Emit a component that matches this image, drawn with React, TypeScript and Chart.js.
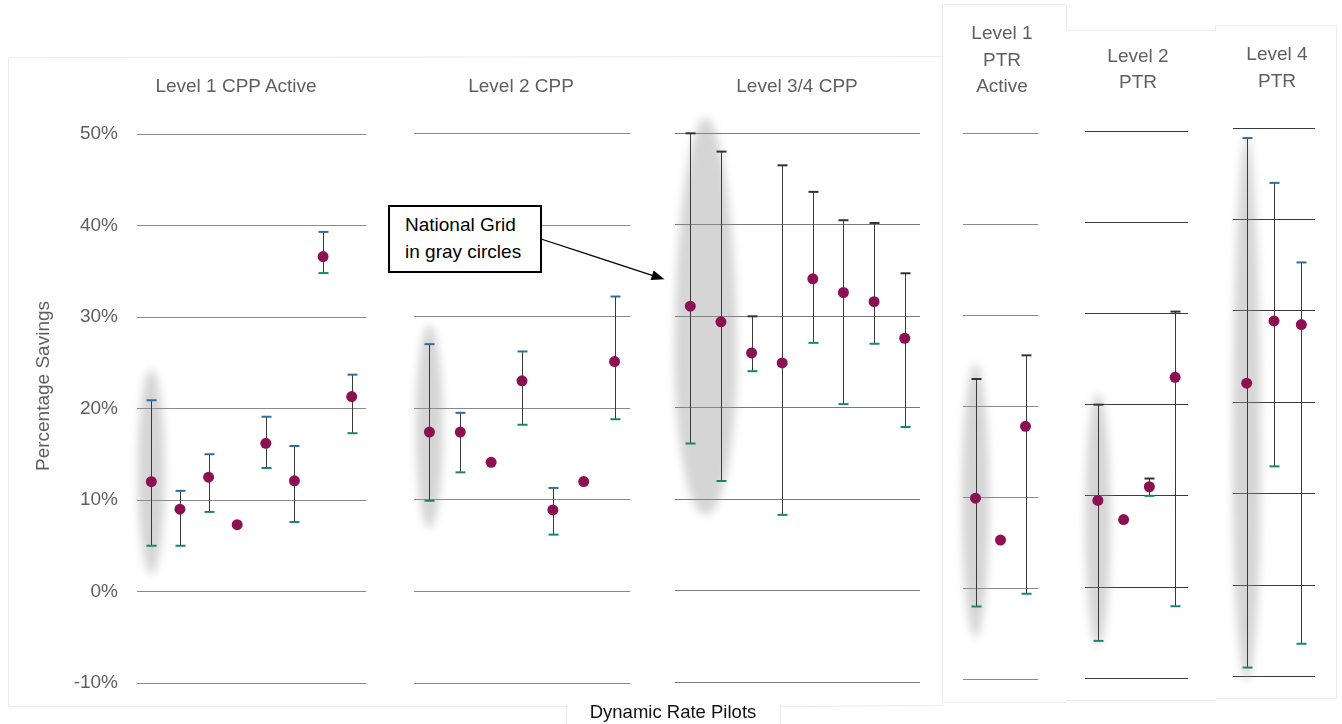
import React, { useEffect, useRef } from "react";
import { Chart, registerables } from "chart.js";

Chart.register(...registerables);

const FONT = '"Liberation Sans", Arial, Helvetica, sans-serif';

// ---------------- data ----------------
const yTickValues = [-10, 0, 10, 20, 30, 40, 50];
const yTickLabels = ["-10%", "0%", "10%", "20%", "30%", "40%", "50%"];
const axisTitle = "Percentage Savings";
const bottomTitle = "Dynamic Rate Pilots";
const calloutLines = ["National Grid", "in gray circles"];

const panelTitles = [
  ["Level 1 CPP Active"],
  ["Level 2 CPP"],
  ["Level 3/4 CPP"],
  ["Level 1", "PTR", "Active"],
  ["Level 2", "PTR"],
  ["Level 4", "PTR"],
];

// Level 1 CPP Active
const l1CppValues = [12.0, 9.0, 12.5, 7.3, 16.2, 12.1, 36.6, 21.3];
const l1CppHigh = [20.9, 11.0, 15.0, null, 19.1, 15.9, 39.3, 23.7];
const l1CppLow = [5.0, 5.0, 8.7, null, 13.5, 7.6, 34.8, 17.3];

// Level 2 CPP
const l2CppValues = [17.4, 17.4, 14.1, 23.0, 8.9, 12.0, 25.1];
const l2CppHigh = [27.0, 19.5, null, 26.2, 11.3, null, 32.2];
const l2CppLow = [9.9, 13.0, null, 18.2, 6.2, null, 18.8];

// Level 3/4 CPP
const l34CppValues = [31.1, 29.4, 26.0, 24.9, 34.1, 32.6, 31.6, 27.6];
const l34CppHigh = [50.0, 48.0, 30.0, 46.5, 43.6, 40.5, 40.2, 34.7];
const l34CppLow = [16.1, 12.0, 24.0, 8.3, 27.1, 20.4, 27.0, 17.9];

// Level 1 PTR Active
const l1PtrValues = [9.9, 5.3, 17.8];
const l1PtrHigh = [23.0, null, 25.6];
const l1PtrLow = [-2.0, null, -0.6];

// Level 2 PTR
const l2PtrValues = [9.5, 7.4, 11.0, 23.0];
const l2PtrHigh = [20.0, null, 11.9, 30.2];
const l2PtrLow = [-5.9, null, 10.0, -2.1];

// Level 4 PTR
const l4PtrValues = [22.1, 28.9, 28.5];
const l4PtrHigh = [48.9, 44.0, 35.3];
const l4PtrLow = [-9.0, 13.0, -6.4];

// National Grid gray circles (value extents and centre category)
const ngHigh = [24.3, 29.1, 51.7, 24.7, 21.3, 49.0];
const ngLow = [1.9, 6.9, 8.3, -5.4, -6.5, -10.5];
const ngCenter = [0, 0, 0.5, 0, 0, 0];

const panelValues = [l1CppValues, l2CppValues, l34CppValues, l1PtrValues, l2PtrValues, l4PtrValues];
const panelHigh = [l1CppHigh, l2CppHigh, l34CppHigh, l1PtrHigh, l2PtrHigh, l4PtrHigh];
const panelLow = [l1CppLow, l2CppLow, l34CppLow, l1PtrLow, l2PtrLow, l4PtrLow];

// ---------------- layout / style ----------------
const panelBoxes = [
  { left: 137, right: 366, top: 134, bottom: 683, ew: 13.5, drop: false, grid: "#8a8a8a", cap: "#2f6e9c" },
  { left: 414, right: 630, top: 133.5, bottom: 683, ew: 13.5, drop: false, grid: "#8a8a8a", cap: "#2f6e9c" },
  { left: 675, right: 920, top: 133.3, bottom: 682.3, ew: 31, drop: true, grid: "#7a7a7a", cap: "#333333" },
  { left: 963, right: 1038, top: 133.3, bottom: 679.3, ew: 13.5, drop: false, grid: "#8a8a8a", cap: "#333333" },
  { left: 1085, right: 1188, top: 131, bottom: 678.3, ew: 12.5, drop: false, grid: "#3a3a3a", cap: "#333333" },
  { left: 1233, right: 1315, top: 128, bottom: 676.7, ew: 14, drop: true, grid: "#3a3a3a", cap: "#2f6e9c" },
];

const titleBoxes = [
  { cx: 236, y: 86 },
  { cx: 521, y: 86 },
  { cx: 797, y: 86 },
  { cx: 1002, y: 33.3 },
  { cx: 1138, y: 56 },
  { cx: 1277, y: 54.3 },
];

const POINT = "#8c1152";
const BAR = "#3a3a3a";
const CAP_BOTTOM = "#178575";
const TEXT_GRAY = "#5f5f5f";

function Panel({ idx }: { idx: number }) {
  const ref = useRef<HTMLCanvasElement>(null);
  const box = panelBoxes[idx];
  const values = panelValues[idx];
  const high = panelHigh[idx];
  const low = panelLow[idx];
  const margin = 40;
  const isFirst = idx === 0;
  const canvasLeft = isFirst ? 0 : box.left - margin;
  const canvasWidth = box.right + margin - canvasLeft;

  useEffect(() => {
    const plugin = {
      id: "ngErrorBars" + idx,
      beforeDatasetsDraw(chart: any) {
        const { ctx } = chart;
        const x = chart.scales.x;
        const y = chart.scales.y;
        // gray "circle"
        ctx.save();
        ctx.filter = "blur(4px)";
        ctx.fillStyle = "rgba(150,150,150,0.4)";
        const cx = x.getPixelForValue(ngCenter[idx]);
        const yt = y.getPixelForValue(ngHigh[idx]);
        const yb = y.getPixelForValue(ngLow[idx]);
        const w = box.ew;
        ctx.beginPath();
        if (box.drop) {
          const ym = yt + (yb - yt) * 0.6;
          ctx.moveTo(cx, yt);
          ctx.bezierCurveTo(cx + w * 0.5, yt, cx + w, ym - (ym - yt) * 0.55, cx + w, ym);
          ctx.bezierCurveTo(cx + w, ym + (yb - ym) * 0.55, cx + w * 0.55, yb, cx, yb);
          ctx.bezierCurveTo(cx - w * 0.55, yb, cx - w, ym + (yb - ym) * 0.55, cx - w, ym);
          ctx.bezierCurveTo(cx - w, ym - (ym - yt) * 0.55, cx - w * 0.5, yt, cx, yt);
          ctx.closePath();
        } else {
          ctx.ellipse(cx, (yt + yb) / 2, w, (yb - yt) / 2, 0, 0, Math.PI * 2);
        }
        ctx.fill();
        ctx.restore();
        // error bars
        ctx.save();
        for (let i = 0; i < values.length; i++) {
          const h = high[i];
          const l = low[i];
          if (h == null || l == null) continue;
          const px = Math.round(x.getPixelForValue(i)) + 0.5;
          const pt = y.getPixelForValue(h);
          const pb = y.getPixelForValue(l);
          ctx.strokeStyle = BAR;
          ctx.lineWidth = 1;
          ctx.beginPath();
          ctx.moveTo(px, pt);
          ctx.lineTo(px, pb);
          ctx.stroke();
          ctx.lineWidth = 2;
          ctx.strokeStyle = box.cap;
          ctx.beginPath();
          ctx.moveTo(px - 5, pt);
          ctx.lineTo(px + 5, pt);
          ctx.stroke();
          ctx.strokeStyle = CAP_BOTTOM;
          ctx.beginPath();
          ctx.moveTo(px - 5, pb);
          ctx.lineTo(px + 5, pb);
          ctx.stroke();
        }
        ctx.restore();
      },
    };

    const chart = new Chart(ref.current as HTMLCanvasElement, {
      type: "scatter",
      data: {
        datasets: [
          {
            data: values.map((v, i) => ({ x: i, y: v })),
            pointRadius: 5.5,
            pointHoverRadius: 5.5,
            backgroundColor: POINT,
            borderColor: POINT,
            borderWidth: 0,
            clip: false as any,
          },
        ],
      },
      options: {
        responsive: false,
        animation: false,
        events: [],
        layout: {
          padding: {
            left: isFirst ? 0 : margin,
            right: margin,
            top: box.top,
            bottom: 724 - box.bottom,
          },
        },
        plugins: { legend: { display: false }, tooltip: { enabled: false } },
        scales: {
          x: { type: "linear", display: false, min: -0.5, max: values.length - 0.5 },
          y: {
            type: "linear",
            min: -10,
            max: 50,
            afterBuildTicks: (s: any) => {
              s.ticks = yTickValues.map((v) => ({ value: v }));
            },
            afterFit: (s: any) => {
              s.width = isFirst ? box.left : 0;
            },
            border: { display: false },
            grid: { color: box.grid, lineWidth: 1, drawTicks: false },
            ticks: {
              display: isFirst,
              padding: 19,
              color: TEXT_GRAY,
              font: { family: FONT, size: 19 },
              callback: (_v: any, i: number) => yTickLabels[i],
            },
          },
        },
      } as any,
      plugins: [plugin],
    });
    return () => chart.destroy();
  }, []);

  return (
    <canvas
      ref={ref}
      width={canvasWidth}
      height={724}
      style={{ position: "absolute", left: canvasLeft, top: 0, width: canvasWidth, height: 724 }}
    />
  );
}

function Frames() {
  const c = "#ebebeb";
  const lines: [number, number, number, number][] = [
    [8, 57, 942, 56],
    [8, 57, 8, 706],
    [8, 706, 566, 706],
    [566, 704, 566, 724],
    [780, 704, 780, 724],
    [780, 706, 942, 705],
    [942, 4, 942, 702],
    [942, 4, 1066, 4],
    [1066, 4, 1066, 30],
    [942, 702, 1066, 702],
    [1066, 30, 1215, 30],
    [1066, 700, 1215, 700],
    [1215, 25, 1215, 30],
    [1215, 25, 1336, 25],
    [1336, 25, 1336, 698],
    [1215, 698, 1336, 698],
  ];
  // arrow for the callout
  const sx = 541, sy = 239, tx = 664.5, ty = 279.3;
  const dx = tx - sx, dy = ty - sy;
  const len = Math.hypot(dx, dy);
  const ux = dx / len, uy = dy / len;
  const bx = tx - ux * 13, by = ty - uy * 13;
  const hx = -uy * 5, hy = ux * 5;
  return (
    <svg width={1342} height={724} style={{ position: "absolute", left: 0, top: 0 }}>
      {lines.map((l, i) => (
        <line key={i} x1={l[0] + 0.5} y1={l[1] + 0.5} x2={l[2] + 0.5} y2={l[3] + 0.5} stroke={c} strokeWidth={1} />
      ))}
      <line x1={sx} y1={sy} x2={bx} y2={by} stroke="#000" strokeWidth={1.3} />
      <polygon points={`${tx},${ty} ${bx + hx},${by + hy} ${bx - hx},${by - hy}`} fill="#000" />
    </svg>
  );
}

export default function App() {
  return (
    <div
      style={{
        position: "absolute",
        left: 0,
        top: 0,
        width: 1342,
        height: 724,
        background: "#fff",
        overflow: "hidden",
        fontFamily: FONT,
      }}
    >
      <Frames />
      {panelBoxes.map((_, i) => (
        <Panel key={i} idx={i} />
      ))}
      {panelTitles.map((lines, i) => (
        <div
          key={i}
          style={{
            position: "absolute",
            left: titleBoxes[i].cx - 100,
            top: titleBoxes[i].y - 13.25,
            width: 200,
            textAlign: "center",
            fontSize: 19,
            lineHeight: "26.5px",
            color: TEXT_GRAY,
            whiteSpace: "nowrap",
          }}
        >
          {lines.map((t, j) => (
            <div key={j}>{t}</div>
          ))}
        </div>
      ))}
      <div
        style={{
          position: "absolute",
          left: 43 - 120,
          top: 386 - 12,
          width: 240,
          height: 24,
          lineHeight: "24px",
          textAlign: "center",
          fontSize: 19,
          color: TEXT_GRAY,
          transform: "rotate(-90deg)",
          whiteSpace: "nowrap",
        }}
      >
        {axisTitle}
      </div>
      <div
        style={{
          position: "absolute",
          left: 568,
          top: 700,
          width: 210,
          height: 24,
          lineHeight: "24px",
          textAlign: "center",
          fontSize: 18.5,
          color: "#111",
          whiteSpace: "nowrap",
        }}
      >
        {bottomTitle}
      </div>
      <div
        style={{
          position: "absolute",
          left: 388,
          top: 205,
          width: 154,
          height: 68,
          boxSizing: "border-box",
          border: "2px solid #000",
          background: "#fff",
          padding: "5px 0 0 15px",
          fontSize: 19,
          lineHeight: "26.5px",
          color: "#000",
          whiteSpace: "nowrap",
        }}
      >
        {calloutLines.map((t, j) => (
          <div key={j}>{t}</div>
        ))}
      </div>
    </div>
  );
}
